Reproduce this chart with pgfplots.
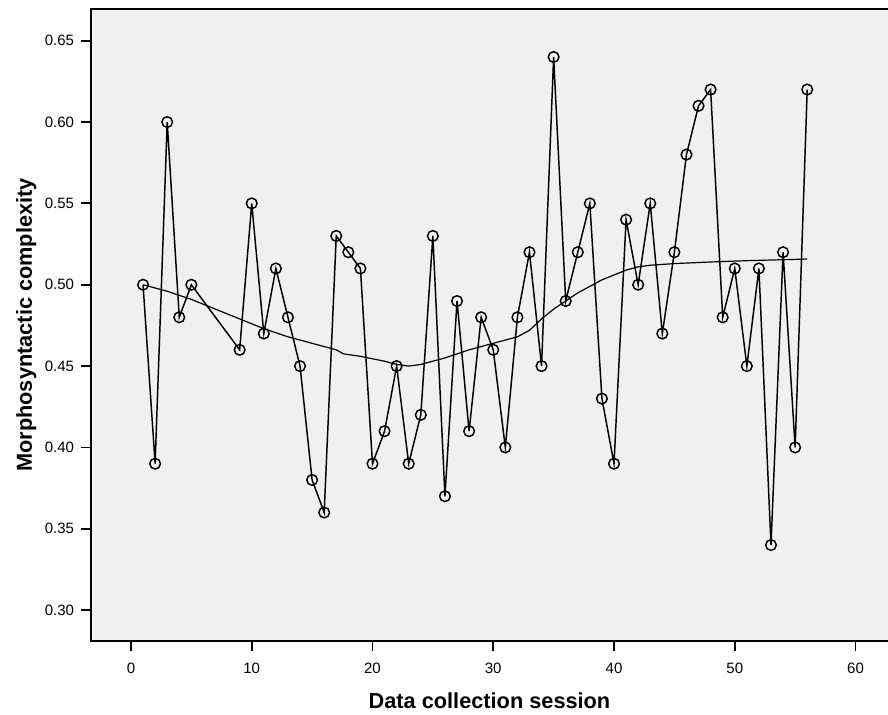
\documentclass[border=0pt]{standalone}
\usepackage{pgfplots}
\pgfplotsset{compat=1.18}
\usepackage{fontspec}
\setmainfont{Liberation Sans}
\definecolor{plotbg}{RGB}{240,240,240}
\begin{document}
\begin{tikzpicture}
\begin{axis}[
  scale only axis,
  width=597.75pt, height=474pt,
  xmin=-3.31, xmax=62.69,
  ymin=0.281, ymax=0.6695,
  clip=false,
  axis background/.style={fill=plotbg},
  axis line style={draw=none},
  xtick={0,10,20,30,40,50,60},
  ytick={0.30,0.35,0.40,0.45,0.50,0.55,0.60,0.65},
  xtick pos=lower, ytick pos=left,
  tick align=outside,
  major tick length=7.5pt,
  every tick/.style={black, line width=1.4pt},
  /pgf/number format/assume math mode=true,
  yticklabel style={/pgf/number format/fixed, /pgf/number format/fixed zerofill, /pgf/number format/precision=2, anchor=east, inner sep=0pt, xshift=-5pt},
  xticklabel style={anchor=north, inner sep=0pt, yshift=-8.5pt},
  ticklabel style={font=\fontsize{11.25}{13}\selectfont},
  every axis x label/.style={at={(rel axis cs:0.5,0)}, yshift=-50.25pt, anchor=base, font=\fontsize{16.3}{19}\selectfont\bfseries},
  every axis y label/.style={at={(rel axis cs:0,0.5)}, xshift=-44.25pt, rotate=90, anchor=base, font=\fontsize{16.3}{19}\selectfont\bfseries},
  xlabel={Data collection session},
  ylabel={Morphosyntactic complexity},
]
\addplot[black, line width=1.1pt, mark=o, mark size=4pt, mark options={line width=1.1pt}] coordinates {
(1,0.50) (2,0.39) (3,0.60) (4,0.48) (5,0.50) (9,0.46) (10,0.55) (11,0.47)
(12,0.51) (13,0.48) (14,0.45) (15,0.38) (16,0.36) (17,0.53) (18,0.52) (19,0.51)
(20,0.39) (21,0.41) (22,0.45) (23,0.39) (24,0.42) (25,0.53) (26,0.37) (27,0.49)
(28,0.41) (29,0.48) (30,0.46) (31,0.40) (32,0.48) (33,0.52) (34,0.45) (35,0.64)
(36,0.49) (37,0.52) (38,0.55) (39,0.43) (40,0.39) (41,0.54) (42,0.50) (43,0.55)
(44,0.47) (45,0.52) (46,0.58) (47,0.61) (48,0.62) (49,0.48) (50,0.51) (51,0.45)
(52,0.51) (53,0.34) (54,0.52) (55,0.40) (56,0.62)
};
\addplot[black, line width=0.9pt, mark=none] coordinates {
(1,0.500) (3,0.496) (5,0.491) (7,0.485) (9,0.479) (11,0.473) (13,0.468)
(15,0.464) (17,0.460) (17.6,0.4575) (19,0.456) (21,0.453) (22,0.451) (23,0.450)
(24,0.451) (26,0.455) (28,0.460) (30,0.464) (32,0.468) (33,0.472) (34,0.479)
(35,0.485) (36,0.490) (37,0.495) (38,0.499) (39,0.503) (40,0.506) (41,0.509)
(42,0.511) (43,0.512) (45,0.513) (48,0.514) (51,0.5148) (54,0.5154) (56,0.5158)
};
\draw[black, line width=1.4pt] (rel axis cs:1,1) -- (rel axis cs:0,1) -- (rel axis cs:0,0) -- (rel axis cs:1,0);
\end{axis}
\pgfresetboundingbox
\path[use as bounding box] ([shift={(-68.25pt,-54.75pt)}]current axis.south west) rectangle ([shift={(0pt,6.75pt)}]current axis.north east);
\end{tikzpicture}
\end{document}
